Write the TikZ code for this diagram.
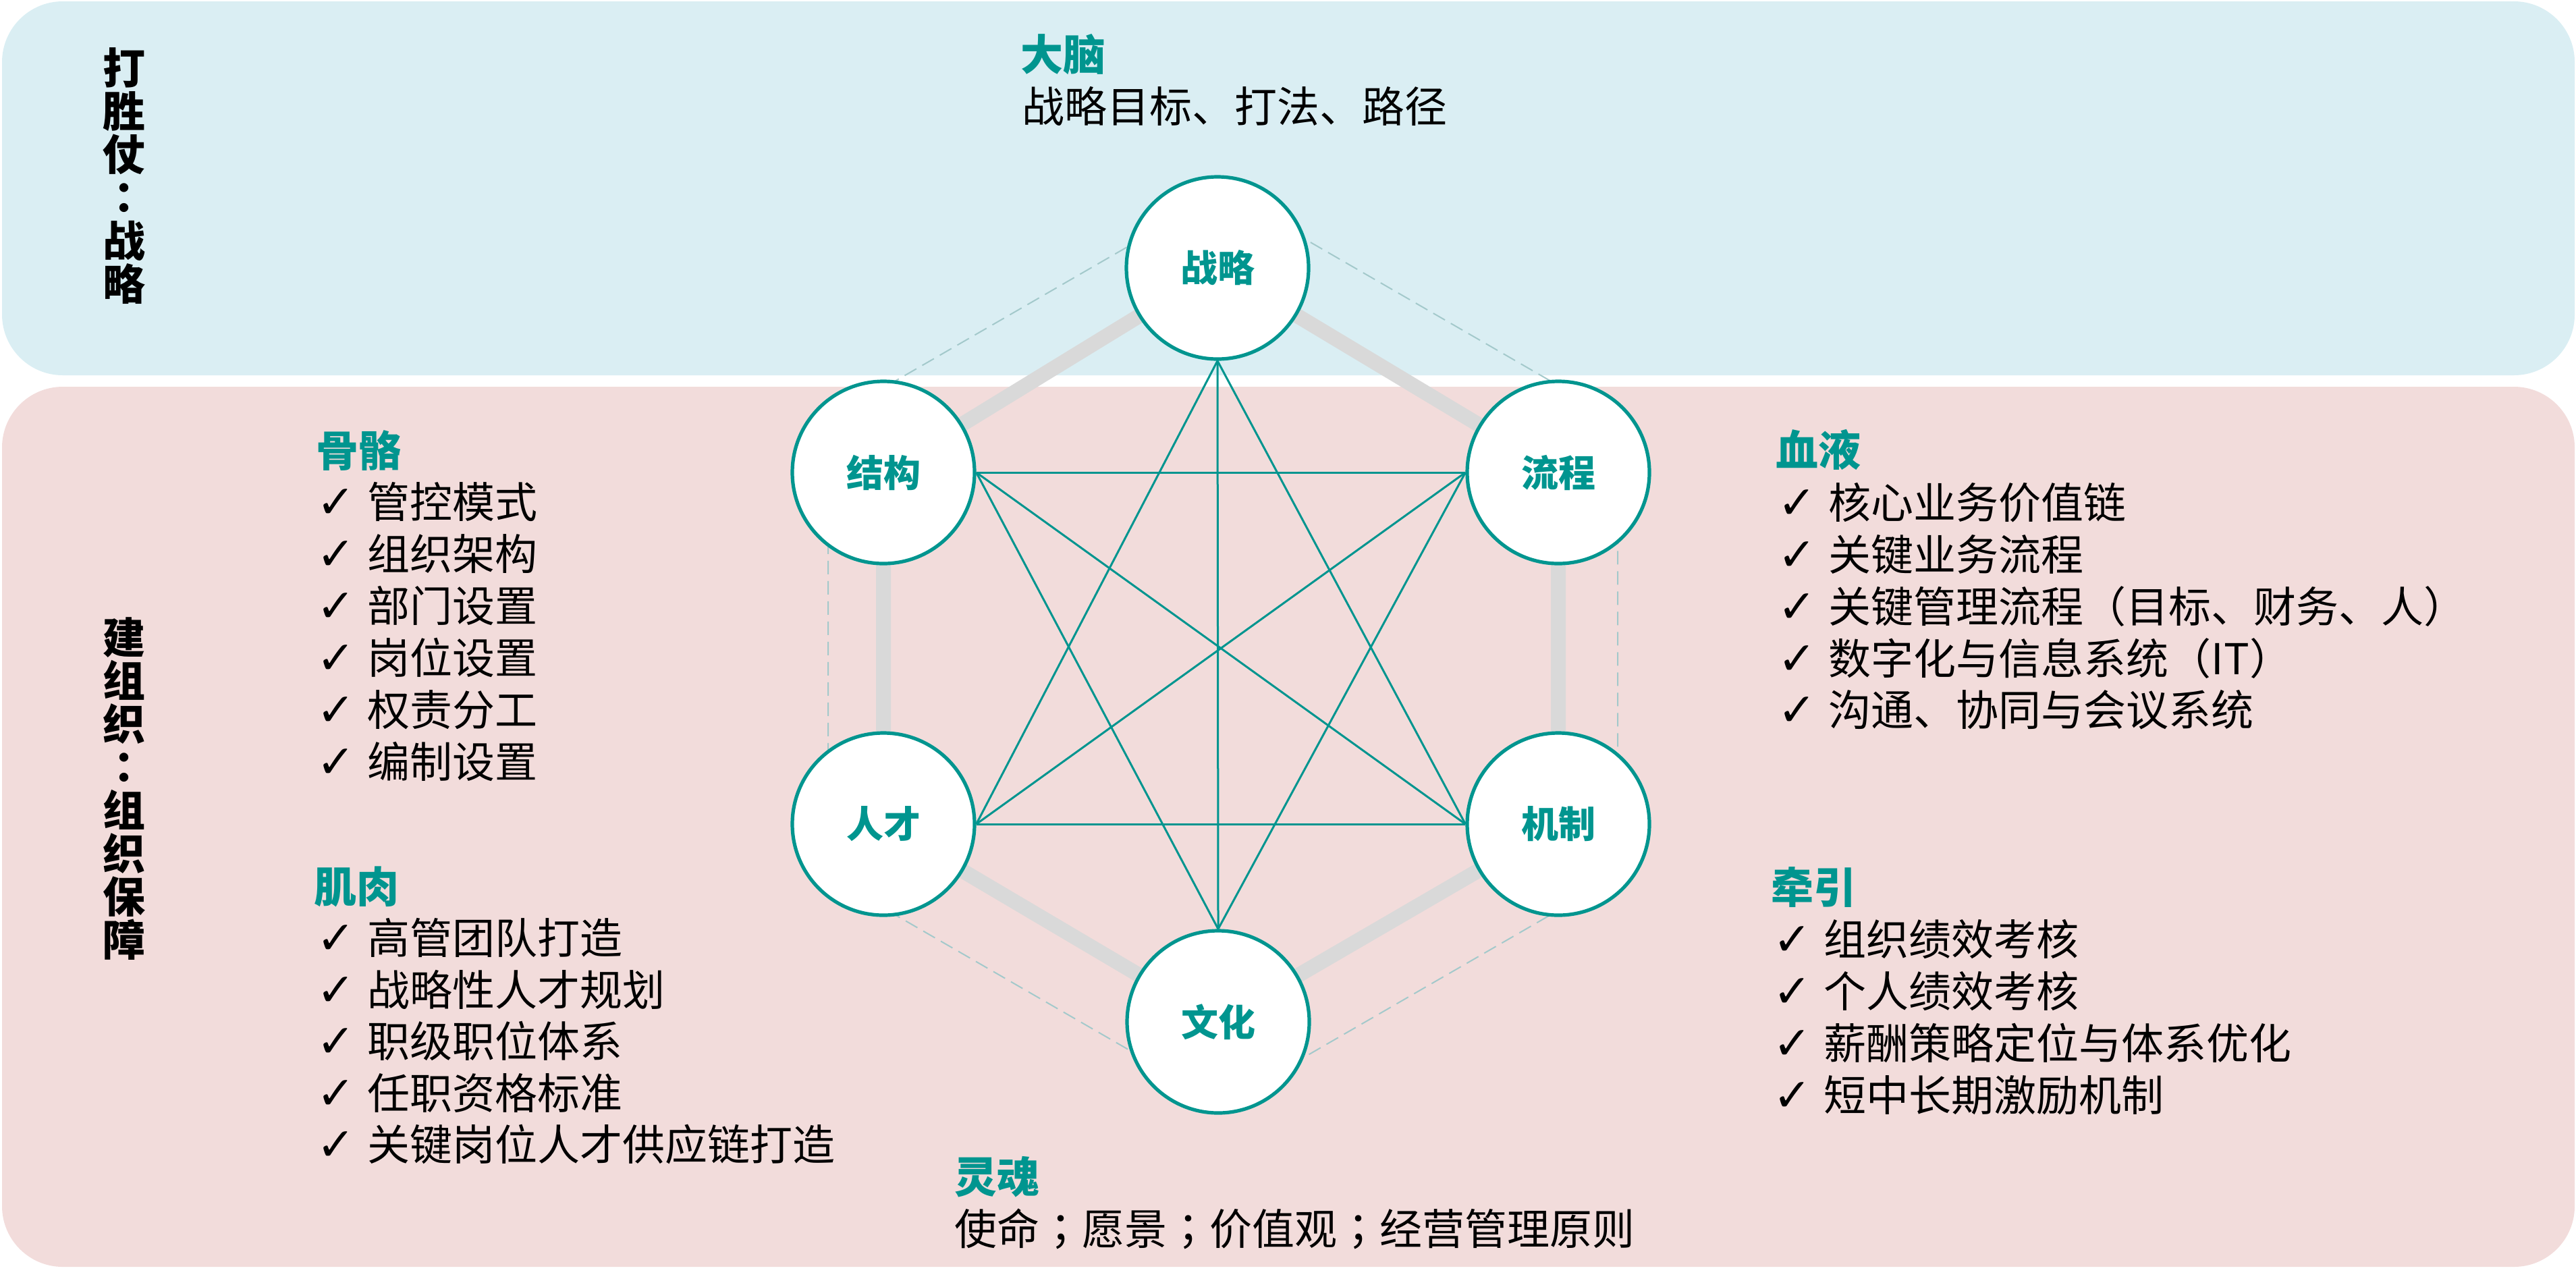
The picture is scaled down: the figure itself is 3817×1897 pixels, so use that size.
\documentclass[tikz,border=0pt]{standalone}
\usepackage{fontspec}
\setmainfont{Noto Sans CJK SC}
\newfontfamily\tcf{Noto Sans CJK TC}
\newfontfamily\dv{DejaVu Sans}
\definecolor{teal2}{HTML}{00958F}
\definecolor{bluebg}{HTML}{DAEEF3}
\definecolor{pinkbg}{HTML}{F2DCDB}
\definecolor{hexgray}{HTML}{D9D9D9}
\definecolor{dashc}{HTML}{A3C9CB}
\pgfdeclarelayer{bg}
\pgfdeclarelayer{lines}
\pgfsetlayers{bg,lines,main}
\newcommand\ckm{\makebox[18.75pt][l]{\dv\fontsize{17}{17}\selectfont ✓}}
\newcommand\sem{{\tcf ；}}
\newcommand\vcol{{\tcf ：}}
\begin{document}
\begin{tikzpicture}[x=0.25pt,y=-0.25pt,
  circ/.style={circle,draw=teal2,line width=1.3pt,fill=white,minimum size=67.5pt,inner sep=0pt,text=teal2,font=\fontsize{13.75}{16}\selectfont\bfseries},
  link/.style={draw=teal2,line width=0.75pt},
  rim/.style={draw=dashc,line width=0.5pt,dash pattern=on 5pt off 2.5pt},
  hexline/.style={draw=hexgray,line width=5.5pt,line join=round},
  head/.style={anchor=base west,inner sep=0pt,text=teal2,font=\fontsize{15.75}{16}\selectfont\bfseries},
  txt/.style={anchor=base west,inner sep=0pt,font=\fontsize{15.75}{16}\selectfont},
  side/.style={align=center,inner sep=0pt,font=\fontsize{15.75}{16}\selectfont\bfseries}
]
\useasboundingbox (0,0) rectangle (3817,1897);
\begin{pgfonlayer}{bg}
\fill[bluebg,rounded corners=22.5pt] (3,2) rectangle (3815,556);
\fill[pinkbg,rounded corners=22.5pt] (3,573) rectangle (3815,1877);
\end{pgfonlayer}

% circles
\node[circ] (zl) at (1804,397) {战略};
\node[circ] (jg) at (1309,700) {结构};
\node[circ] (lc) at (2309,700) {流程};
\node[circ] (rc) at (1309,1221) {人才};
\node[circ] (jz) at (2309,1221) {机制};
\node[circ] (wh) at (1805,1514) {文化};

% outer dashed hexagon
\coordinate (h1) at (1812,284);
\coordinate (h2) at (2397,622);
\coordinate (h3) at (2397,1298);
\coordinate (h4) at (1812,1636);
\coordinate (h5) at (1227,1298);
\coordinate (h6) at (1227,622);

\begin{pgfonlayer}{lines}
\draw[rim] (h1) -- (h2) -- (h3) -- (h4) -- (h5) -- (h6) -- cycle;
\draw[hexline] (zl.center) -- (lc.center) -- (jz.center) -- (wh.center) -- (rc.center) -- (jg.center) -- cycle;
\draw[link] (zl.south) -- (rc.east);
\draw[link] (zl.south) -- (jz.west);
\draw[link] (zl.south) -- (wh.north);
\draw[link] (jg.east) -- (lc.west);
\draw[link] (jg.east) -- (wh.north);
\draw[link] (jg.east) -- (jz.west);
\draw[link] (lc.west) -- (wh.north);
\draw[link] (lc.west) -- (rc.east);
\draw[link] (rc.east) -- (jz.west);
\end{pgfonlayer}

% side labels
\node[side] (s1) at (184,261) {打\\胜\\仗\\\vcol\\战\\略};
\node[side] (s2) at (184,1169) {建\\组\\织\\\vcol\\组\\织\\保\\障};

% top
\node[head] (t0) at (1512,104) {大脑};
\node[txt] (t1) at (1514,181) {战略目标、打法、路径};

% 骨骼
\node[head] (a0) at (468,691) {骨骼};
\node[txt] (a1) at (469,767) {\ckm 管控模式};
\node[txt] (a2) at (469,844) {\ckm 组织架构};
\node[txt] (a3) at (469,921) {\ckm 部门设置};
\node[txt] (a4) at (469,998) {\ckm 岗位设置};
\node[txt] (a5) at (469,1075) {\ckm 权责分工};
\node[txt] (a6) at (469,1152) {\ckm 编制设置};

% 肌肉
\node[head] (b0) at (465,1337) {肌肉};
\node[txt] (b1) at (469,1413) {\ckm 高管团队打造};
\node[txt] (b2) at (469,1490) {\ckm 战略性人才规划};
\node[txt] (b3) at (469,1566) {\ckm 职级职位体系};
\node[txt] (b4) at (469,1643) {\ckm 任职资格标准};
\node[txt] (b5) at (469,1719) {\ckm 关键岗位人才供应链打造};

% 血液
\node[head] (c0) at (2631,690) {血液};
\node[txt] (c1) at (2634,768) {\ckm 核心业务价值链};
\node[txt] (c2) at (2634,845) {\ckm 关键业务流程};
\node[txt] (c3) at (2634,922) {\ckm 关键管理流程（目标、财务、人）};
\node[txt] (c4) at (2634,999) {\ckm 数字化与信息系统（IT）};
\node[txt] (c5) at (2634,1075) {\ckm 沟通、协同与会议系统};

% 牵引
\node[head] (d0) at (2624,1338) {牵引};
\node[txt] (d1) at (2627,1415) {\ckm 组织绩效考核};
\node[txt] (d2) at (2627,1492) {\ckm 个人绩效考核};
\node[txt] (d3) at (2627,1569) {\ckm 薪酬策略定位与体系优化};
\node[txt] (d4) at (2627,1646) {\ckm 短中长期激励机制};

% 灵魂
\node[head] (e0) at (1414,1767) {灵魂};
\node[txt] (e1) at (1414,1844) {使命\sem 愿景\sem 价值观\sem 经营管理原则};
\end{tikzpicture}
\end{document}
